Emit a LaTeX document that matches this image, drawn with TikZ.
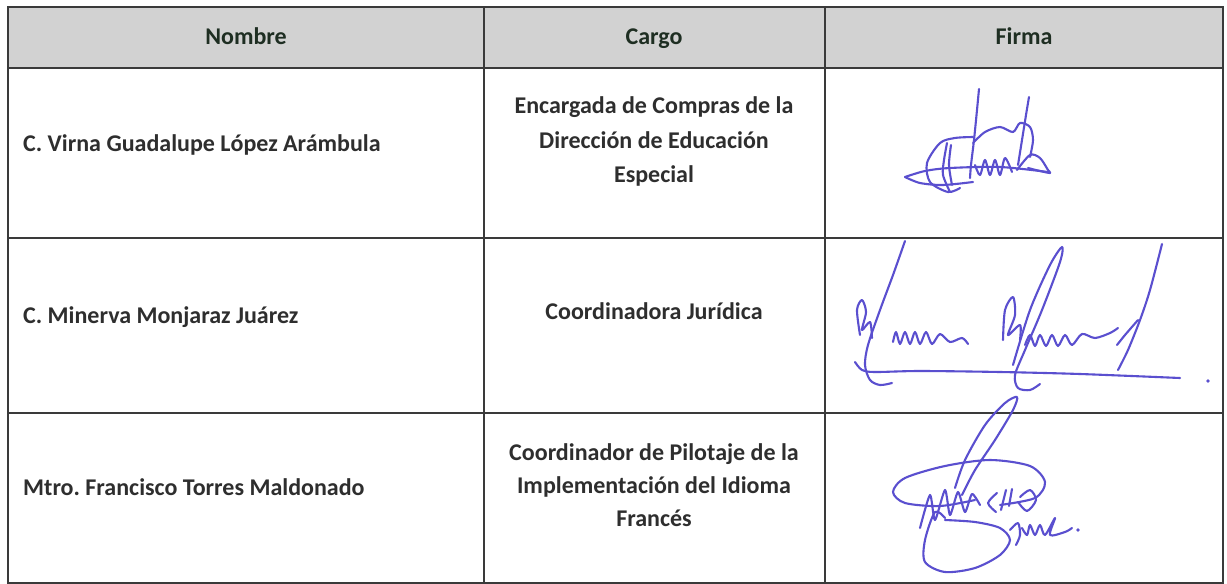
\documentclass[tikz,border=0pt]{standalone}
\usepackage{fontspec}
\setmainfont{Carlito}
\definecolor{ink}{HTML}{5A4FCF}
\definecolor{rulec}{HTML}{3A3A3A}
\definecolor{hdr}{HTML}{D2D2D2}
\definecolor{txt}{HTML}{2E2E2E}
\definecolor{htxt}{HTML}{1E2E22}
\frenchspacing
\begin{document}
\begin{tikzpicture}[x=1pt,y=-1pt,
  gridline/.style={draw=rulec,line width=1.8pt},
  lbl/.style={font=\fontsize{24}{28}\selectfont\bfseries, text=txt, inner sep=0pt, anchor=base},
  namelbl/.style={lbl, anchor=base west},
  hlbl/.style={lbl, text=htxt},
  sig/.style={draw=ink, line width=2.1pt, line cap=round, line join=round}]
\useasboundingbox (0,0) rectangle (1227,584);
\fill[white] (0,0) rectangle (1227,584);
% grid coordinates
\coordinate (tl) at (8,7);
\coordinate (tr) at (1223,7);
\coordinate (bl) at (8,583);
\coordinate (br) at (1223,583);
\coordinate (h1l) at (8,68);   \coordinate (h1r) at (1223,68);
\coordinate (r1l) at (8,238);  \coordinate (r1r) at (1223,238);
\coordinate (r2l) at (8,413);  \coordinate (r2r) at (1223,413);
\coordinate (v1t) at (484,7);  \coordinate (v1b) at (484,583);
\coordinate (v2t) at (825,7);  \coordinate (v2b) at (825,583);
% header fill
\fill[hdr] (tl) rectangle (h1r);
% lines
\draw[gridline] (tl) rectangle (br);
\draw[gridline] (h1l) -- (h1r);
\draw[gridline] (r1l) -- (r1r);
\draw[gridline] (r2l) -- (r2r);
\draw[gridline] (v1t) -- (v1b);
\draw[gridline] (v2t) -- (v2b);
% header texts
\node[hlbl] (hn) at (246,44) {Nombre};
\node[hlbl] (hc) at (654,44) {Cargo};
\node[hlbl] (hf) at (1024,44) {Firma};
% names
\node[namelbl] (n1) at (23,151) {C. Virna Guadalupe López Arámbula};
\node[namelbl] (n2) at (23,323) {C. Minerva Monjaraz Juárez};
\node[namelbl] (n3) at (23,495) {Mtro. Francisco Torres Maldonado};
% cargos
\node[lbl] (c1a) at (654,113) {Encargada de Compras de la};
\node[lbl] (c1b) at (654,148) {Dirección de Educación};
\node[lbl] (c1c) at (654,182) {Especial};
\node[lbl] (c2a) at (654,319) {Coordinadora Jurídica};
\node[lbl] (c3a) at (654,460) {Coordinador de Pilotaje de la};
\node[lbl] (c3b) at (654,493) {Implementación del Idioma};
\node[lbl] (c3c) at (654,526) {Francés};
% signature 1
\draw[sig] plot[smooth] coordinates {(979,89) (977,110) (974,140) (971,165) (970,178)};
\draw[sig] plot[smooth] coordinates {(1029,97) (1026,115) (1022,140) (1018,165)};
\draw[sig] plot[smooth] coordinates {(973,137) (955,138) (940,143) (927,163) (930,182) (948,192) (960,188)};
\draw[sig] plot[smooth] coordinates {(947,143) (944,160) (943,175) (950,192)};
\draw[sig] plot[smooth] coordinates {(951,145) (949,165) (952,185)};
\draw[sig] plot[smooth] coordinates {(905,177) (925,171) (950,168) (1000,167) (1048,172)};
\draw[sig] plot[smooth] coordinates {(905,177) (920,183) (943,185) (973,182)};
\draw[sig] plot[smooth] coordinates {(973,143) (985,132) (1000,127) (1013,132) (1020,123) (1030,127) (1033,140) (1030,157)};
\draw[sig] plot[smooth, tension=0.5] coordinates {(975,165) (980,175) (985,160) (990,175) (995,160) (1000,175) (1005,158) (1012,172)};
\draw[sig] plot[smooth] coordinates {(1017,170) (1030,155) (1040,158) (1048,170) (1050,173) (1040,171) (1028,168)};
% signature 2
\draw[sig] plot[smooth] coordinates {(905,241) (893,275) (880,310) (868,345) (865,365) (870,380) (880,385) (892,383)};
\draw[sig] plot[smooth, tension=0.5] coordinates {(860,335) (857,310) (862,300) (866,312) (862,330) (870,322) (872,338)};
\draw[sig] plot[smooth, tension=0.5] coordinates {(893,342) (896,332) (900,344) (905,332) (910,344) (915,332) (920,344) (926,332) (932,344) (940,334) (950,342) (962,338) (968,344)};
\draw[sig] plot[smooth] coordinates {(1013,365) (1030,310) (1050,265) (1062,247) (1060,262) (1042,310) (1025,350) (1015,375) (1018,388) (1030,390) (1040,384)};
\draw[sig] plot[smooth, tension=0.5] coordinates {(1003,340) (1005,310) (1013,297) (1015,315) (1008,335) (1020,325) (1020,340)};
\draw[sig] plot[smooth, tension=0.5] coordinates {(1025,345) (1030,335) (1035,346) (1040,335) (1046,346) (1052,335) (1058,346) (1065,335) (1072,345) (1082,334) (1095,338) (1110,333) (1118,328)};
\draw[sig] plot[smooth] coordinates {(1162,244) (1150,290) (1140,320) (1128,350) (1118,370)};
\draw[sig] plot[smooth] coordinates {(1117,345) (1125,335) (1138,320)};
\draw[sig] plot[smooth] coordinates {(855,362) (862,370) (875,372) (920,371) (1000,372) (1080,374) (1180,378)};
\fill[ink] (1208,381) circle (1.8);
% signature 3
\draw[sig] plot[smooth] coordinates {(955,488) (965,460) (985,425) (1005,403) (1017,397) (1013,410) (995,440) (975,470) (962,495)};
\draw[sig] plot[smooth] coordinates {(1000,505) (1035,498) (1045,482) (1030,466) (990,460) (945,466) (905,478) (893,492) (905,503) (940,506) (975,500)};
\draw[sig] plot[smooth] coordinates {(945,518) (935,512) (925,540) (925,562) (945,572) (975,568) (1000,555) (1010,540) (1000,528) (975,522) (945,520)};
\draw[sig] plot[smooth, tension=0.4] coordinates {(920,528) (930,495) (935,520) (945,490) (950,515) (958,492) (965,512) (972,494) (980,505)};
\draw[sig] plot[smooth] coordinates {(997,493) (988,503) (996,512)};
\draw[sig] plot[smooth] coordinates {(1006,490) (1001,510)};
\draw[sig] plot[smooth] coordinates {(1012,489) (1009,506)};
\draw[sig] plot[smooth] coordinates {(1020,497) (1030,490) (1036,500) (1027,511) (1018,502)};
\draw[sig] plot[smooth] coordinates {(1010,530) (1018,523) (1020,535) (1016,545)};
\draw[sig] plot[smooth, tension=0.5] coordinates {(1022,528) (1027,535) (1030,525) (1035,535) (1040,525) (1045,535) (1055,518) (1050,535) (1065,532) (1072,528)};
\fill[ink] (1078,530) circle (1.8);
\end{tikzpicture}
\end{document}
